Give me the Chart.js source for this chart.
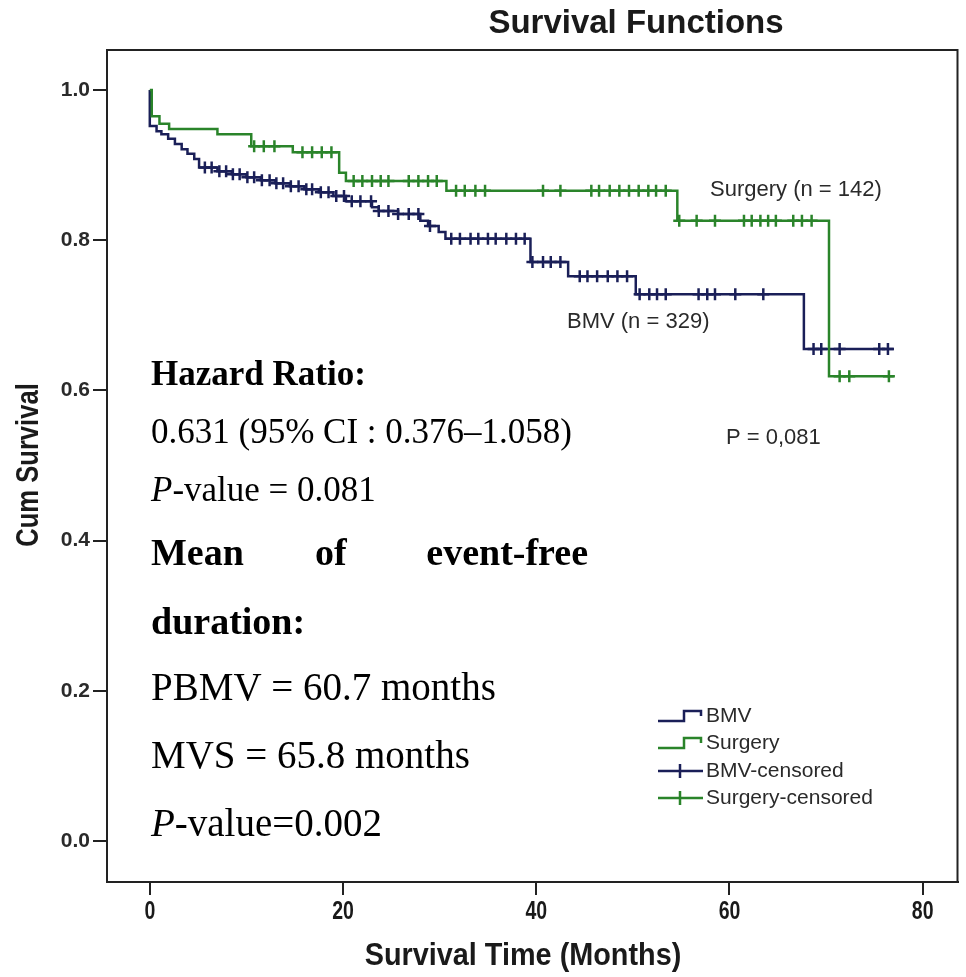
<!DOCTYPE html>
<html>
<head>
<meta charset="utf-8">
<title>Survival Functions</title>
<script src="https://cdn.jsdelivr.net/npm/chart.js@4.4.1/dist/chart.umd.min.js"></script>
<style>
  html, body { margin: 0; padding: 0; background: #fff; }
  #wrap { width: 966px; height: 977px; }
</style>
</head>
<body>
<div id="wrap"><canvas id="km" width="966" height="977"></canvas></div>
<script>
// Kaplan-Meier steps (time in months, cumulative survival)
const bmvTime = [0, 0, 0.7, 1.2, 1.9, 2.6, 3.3, 3.9, 4.6, 5.1, 7.0, 8.5, 10.0, 11.5, 13.0, 14.5, 16.0, 17.5, 19.0, 20.3, 23.0, 23.7, 25.7, 28.0, 28.8, 29.9, 30.6, 39.4, 43.3, 50.3, 67.7, 77.0];
const bmvSurv = [1.0, 0.952, 0.945, 0.941, 0.935, 0.928, 0.921, 0.915, 0.908, 0.897, 0.892, 0.888, 0.884, 0.880, 0.876, 0.872, 0.868, 0.864, 0.859, 0.852, 0.844, 0.839, 0.835, 0.826, 0.819, 0.811, 0.802, 0.771, 0.752, 0.728, 0.655, 0.655];

const surgTime = [0, 0.2, 1.0, 2.0, 7.0, 10.5, 14.8, 19.6, 20.3, 30.7, 54.6, 70.3, 77.0];
const surgSurv = [1.0, 0.965, 0.955, 0.948, 0.941, 0.925, 0.917, 0.890, 0.879, 0.866, 0.826, 0.619, 0.619];

// censored observations (months)
const bmvCensored = [5.7, 6.4, 7.2, 7.9, 8.6, 9.3, 10.1, 10.8, 11.6, 12.4, 13.1, 13.8, 14.6, 15.4, 16.2, 16.8, 17.7, 18.5, 19.3, 20.1, 20.9, 21.8, 22.9, 23.7, 24.7, 25.7, 26.8, 27.8, 29.0, 31.2, 32.1, 33.2, 34.0, 35.0, 35.8, 36.9, 37.9, 38.8, 39.6, 40.7, 41.5, 42.5, 44.5, 45.3, 46.3, 47.4, 48.4, 49.4, 50.7, 51.7, 52.5, 53.4, 56.8, 57.7, 58.5, 60.6, 63.5, 68.7, 69.5, 71.4, 75.5, 76.4];
const surgCensored = [10.8, 11.8, 12.9, 15.8, 16.8, 17.8, 18.8, 21.1, 22.0, 23.0, 23.9, 24.7, 26.8, 27.8, 28.8, 29.7, 31.7, 32.6, 33.7, 34.7, 40.7, 42.5, 45.7, 46.5, 47.6, 48.6, 49.6, 50.6, 51.6, 52.4, 53.4, 54.8, 56.6, 58.5, 61.5, 62.3, 63.2, 64.0, 64.8, 66.6, 67.5, 68.5, 71.4, 72.4, 76.5];

const xTicks = [0, 20, 40, 60, 80];
const yTicks = [0, 0.2, 0.4, 0.6, 0.8, 1.0];

const BMV_COLOR = '#1a1f58';
const SURG_COLOR = '#2a842a';
const INK = '#1a1a1a';

function survAt(times, surv, t) {
  let v = surv[0];
  for (let i = 0; i < times.length; i++) {
    if (times[i] <= t) v = surv[i];
  }
  return v;
}

const stepPoints = (times, surv) => times.map((t, i) => ({x: t, y: surv[i]}));
const censorPoints = (cens, times, surv) => cens.map(t => ({x: t, y: survAt(times, surv, t)}));

// texts, frame and legend that chart.js has no slot for
const decor = {
  id: 'decor',
  afterDraw(chart) {
    const ctx = chart.ctx;
    const area = chart.chartArea;
    const xs = chart.scales.x;
    ctx.save();

    // top + right frame
    ctx.strokeStyle = '#222';
    ctx.lineWidth = 2;
    ctx.beginPath();
    ctx.moveTo(area.left, area.top);
    ctx.lineTo(area.right, area.top);
    ctx.lineTo(area.right, area.bottom);
    ctx.stroke();

    ctx.fillStyle = INK;
    // title
    ctx.font = 'bold 33px "Liberation Sans", Arial, sans-serif';
    ctx.textAlign = 'center';
    ctx.textBaseline = 'alphabetic';
    ctx.fillText('Survival Functions', 636, 33);

    // x tick labels (condensed look)
    ctx.font = 'bold 26px "Liberation Sans", Arial, sans-serif';
    ctx.textBaseline = 'middle';
    xs.ticks.forEach(tk => {
      ctx.save();
      ctx.translate(xs.getPixelForValue(tk.value), 912);
      ctx.scale(0.75, 1);
      ctx.fillText(String(tk.value), 0, 0);
      ctx.restore();
    });

    // axis titles
    ctx.save();
    ctx.font = 'bold 31px "Liberation Sans", Arial, sans-serif';
    ctx.translate(523, 956);
    ctx.scale(0.93, 1);
    ctx.fillText('Survival Time (Months)', 0, 0);
    ctx.restore();

    ctx.save();
    ctx.font = 'bold 32px "Liberation Sans", Arial, sans-serif';
    ctx.translate(29, 465);
    ctx.rotate(-Math.PI / 2);
    ctx.scale(0.8, 1);
    ctx.fillText('Cum Survival', 0, 0);
    ctx.restore();

    // group labels inside the plot
    ctx.fillStyle = '#2a2a2a';
    ctx.textAlign = 'left';
    ctx.font = '22px "Liberation Sans", Arial, sans-serif';
    ctx.fillText('Surgery (n = 142)', 710, 190);
    ctx.fillText('BMV (n = 329)', 567, 322);
    ctx.fillText('P = 0,081', 726, 438);

    // statistics block
    ctx.fillStyle = '#000';
    ctx.textBaseline = 'alphabetic';
    const serif = '"Liberation Serif", "Times New Roman", serif';
    ctx.font = 'bold 35px ' + serif;
    ctx.fillText('Hazard Ratio:', 151, 385);
    ctx.font = '35px ' + serif;
    ctx.fillText('0.631 (95% CI : 0.376\u20131.058)', 151, 443);
    ctx.font = 'italic 35px ' + serif;
    ctx.fillText('P', 151, 501);
    let w = ctx.measureText('P').width;
    ctx.font = '35px ' + serif;
    ctx.fillText('-value = 0.081', 151 + w, 501);
    ctx.font = 'bold 38px ' + serif;
    ctx.fillText('Mean', 151, 565);
    ctx.fillText('of', 315, 565);
    ctx.textAlign = 'right';
    ctx.fillText('event-free', 588, 565);
    ctx.textAlign = 'left';
    ctx.fillText('duration:', 151, 634);
    ctx.font = '39px ' + serif;
    ctx.fillText('PBMV = 60.7 months', 151, 700);
    ctx.fillText('MVS = 65.8 months', 151, 768);
    ctx.font = 'italic 39px ' + serif;
    ctx.fillText('P', 151, 836);
    w = ctx.measureText('P').width;
    ctx.font = '39px ' + serif;
    ctx.fillText('-value=0.002', 151 + w, 836);

    // legend
    const rows = [
      {label: 'BMV', color: BMV_COLOR, step: true, y: 716},
      {label: 'Surgery', color: SURG_COLOR, step: true, y: 743},
      {label: 'BMV-censored', color: BMV_COLOR, step: false, y: 771},
      {label: 'Surgery-censored', color: SURG_COLOR, step: false, y: 798}
    ];
    ctx.font = '21px "Liberation Sans", Arial, sans-serif';
    ctx.textBaseline = 'middle';
    rows.forEach(r => {
      ctx.strokeStyle = r.color;
      ctx.lineWidth = 2.5;
      ctx.beginPath();
      if (r.step) {
        ctx.moveTo(658, r.y + 5);
        ctx.lineTo(684, r.y + 5);
        ctx.lineTo(684, r.y - 5);
        ctx.lineTo(701, r.y - 5);
        ctx.lineTo(701, r.y);
      } else {
        ctx.moveTo(658, r.y);
        ctx.lineTo(703, r.y);
        ctx.moveTo(680, r.y - 7);
        ctx.lineTo(680, r.y + 7);
      }
      ctx.stroke();
      ctx.fillStyle = '#2a2a2a';
      ctx.fillText(r.label, 706, r.y);
    });

    ctx.restore();
  }
};

new Chart(document.getElementById('km'), {
  type: 'line',
  data: {
    datasets: [
      {
        label: 'Surgery-censored',
        data: censorPoints(surgCensored, surgTime, surgSurv),
        showLine: false,
        pointStyle: 'cross',
        pointRadius: 6,
        pointBorderWidth: 2.5,
        pointBorderColor: SURG_COLOR,
        borderColor: SURG_COLOR
      },
      {
        label: 'BMV-censored',
        data: censorPoints(bmvCensored, bmvTime, bmvSurv),
        showLine: false,
        pointStyle: 'cross',
        pointRadius: 6,
        pointBorderWidth: 2.5,
        pointBorderColor: BMV_COLOR,
        borderColor: BMV_COLOR
      },
      {
        label: 'Surgery',
        data: stepPoints(surgTime, surgSurv),
        stepped: 'before',
        borderColor: SURG_COLOR,
        borderWidth: 2.5,
        pointRadius: 0,
        fill: false
      },
      {
        label: 'BMV',
        data: stepPoints(bmvTime, bmvSurv),
        stepped: 'before',
        borderColor: BMV_COLOR,
        borderWidth: 2.5,
        pointRadius: 0,
        fill: false
      }
    ]
  },
  options: {
    responsive: false,
    animation: false,
    devicePixelRatio: 1,
    layout: {padding: {top: 50, right: 4, left: 0, bottom: 0}},
    plugins: {legend: {display: false}, tooltip: {enabled: false}, title: {display: false}},
    scales: {
      x: {
        type: 'linear',
        min: -4.43,
        max: 83.6,
        afterBuildTicks: s => { s.ticks = xTicks.map(v => ({value: v})); },
        afterFit: s => { s.height = 95; },
        ticks: {color: 'rgba(0,0,0,0)', font: {size: 12}},
        grid: {display: true, drawOnChartArea: false, drawTicks: true, tickLength: 13, color: '#222', lineWidth: 2},
        border: {display: true, color: '#222', width: 2}
      },
      y: {
        type: 'linear',
        min: -0.0546,
        max: 1.0533,
        afterBuildTicks: s => { s.ticks = yTicks.map(v => ({value: v})); },
        afterFit: s => { s.width = 107; },
        ticks: {
          callback: v => v.toFixed(1),
          color: '#2a2a2a',
          padding: 3,
          font: {family: '"Liberation Sans", Arial, sans-serif', size: 21, weight: 'bold'}
        },
        grid: {display: true, drawOnChartArea: false, drawTicks: true, tickLength: 14, color: '#222', lineWidth: 2},
        border: {display: true, color: '#222', width: 2}
      }
    }
  },
  plugins: [decor]
});
</script>
</body>
</html>
